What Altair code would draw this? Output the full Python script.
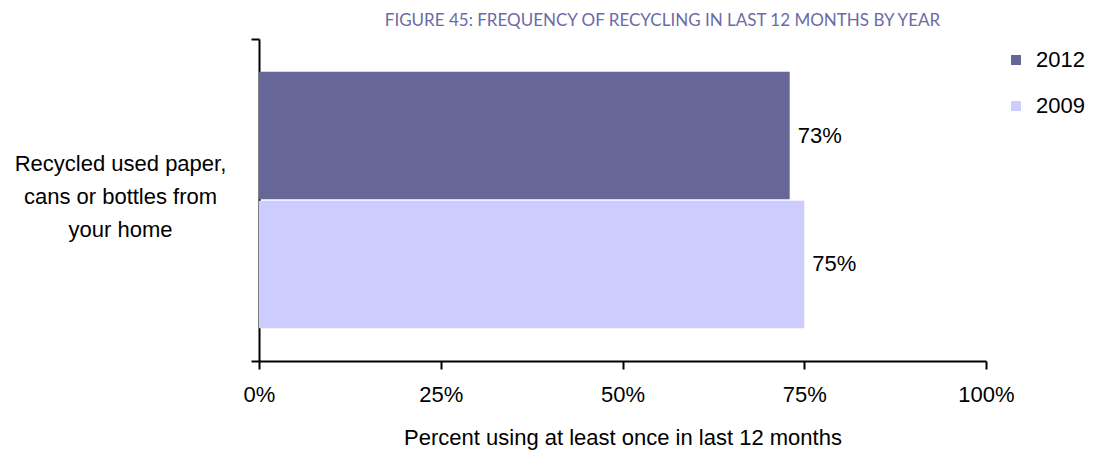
import altair as alt
import pandas as pd

categories = ["Recycled used paper,|cans or bottles from|your home"]
years = ["2012", "2009"]
values = [73, 75]
tick_values = [0, 25, 50, 75, 100]
colors = ["#666699", "#ccccff"]

df = pd.DataFrame({
    "category": categories * len(years),
    "year": years,
    "value": values,
})
df["label"] = df["value"].astype(str) + "%"

FONT = "Liberation Sans"
FS = 22

y_enc = alt.Y("category:N", title=None,
              scale=alt.Scale(paddingInner=0, paddingOuter=0),
              axis=alt.Axis(labelExpr="split(datum.label, '|')", labelAlign="center",
                            labelBaseline="middle", labelOffset=-37,
                            labelPadding=131, labelFontSize=FS, labelLineHeight=33,
                            labelFont=FONT, labelColor="#000000",
                            tickBand="extent", tickSize=8, tickWidth=2, tickColor="#000000",
                            domainColor="#000000", domainWidth=2, labelLimit=400))
yoff = alt.YOffset("year:N", sort=years,
                   scale=alt.Scale(paddingInner=0.01, paddingOuter=0.255))
x_enc = alt.X("value:Q", title="Percent using at least once in last 12 months",
              scale=alt.Scale(domain=[0, 100], nice=False),
              axis=alt.Axis(values=tick_values, labelExpr="datum.value + '%'",
                            labelFlush=False, labelOverlap=False,
                            grid=False, labelFontSize=FS, labelFont=FONT,
                            labelColor="#000000", labelPadding=15,
                            tickSize=8, tickWidth=2, tickColor="#000000",
                            domainColor="#000000", domainWidth=2,
                            titleFontSize=FS, titleFont=FONT,
                            titleFontWeight="normal", titleColor="#000000",
                            titlePadding=22))

bars = alt.Chart(df).mark_bar().encode(
    x=x_enc, y=y_enc, yOffset=yoff,
    color=alt.Color("year:N", sort=years,
                    scale=alt.Scale(domain=years, range=colors),
                    legend=alt.Legend(title=None, orient="none", legendX=746, legendY=10,
                                      symbolType="square", symbolSize=100,
                                      symbolStrokeWidth=0, labelFontSize=FS,
                                      labelFont=FONT, labelColor="#000000",
                                      rowPadding=24, labelOffset=9)),
)

text = alt.Chart(df).mark_text(align="left", baseline="middle", dx=8, fontSize=FS,
                               font=FONT, color="#000000").encode(
    x="value:Q", y=alt.Y("category:N"), yOffset=alt.YOffset("year:N", sort=years),
    text="label:N")

chart = alt.layer(bars, text).properties(
    width=727, height=322,
    padding={"left": 251, "top": 31, "right": 100, "bottom": 90},
    autosize=alt.AutoSizeParams(type="none"),
    title=alt.TitleParams("FIGURE 45: FREQUENCY OF RECYCLING IN LAST 12 MONTHS BY YEAR",
                          anchor="middle", frame="group", dx=40, offset=-2, fontSize=17,
                          font="Lato", fontWeight="normal", color="#6b6ba6"),
).configure(background="white", view=alt.ViewConfig(stroke=None))

chart.save("out.html", embed_options={"renderer": "svg", "actions": False})
